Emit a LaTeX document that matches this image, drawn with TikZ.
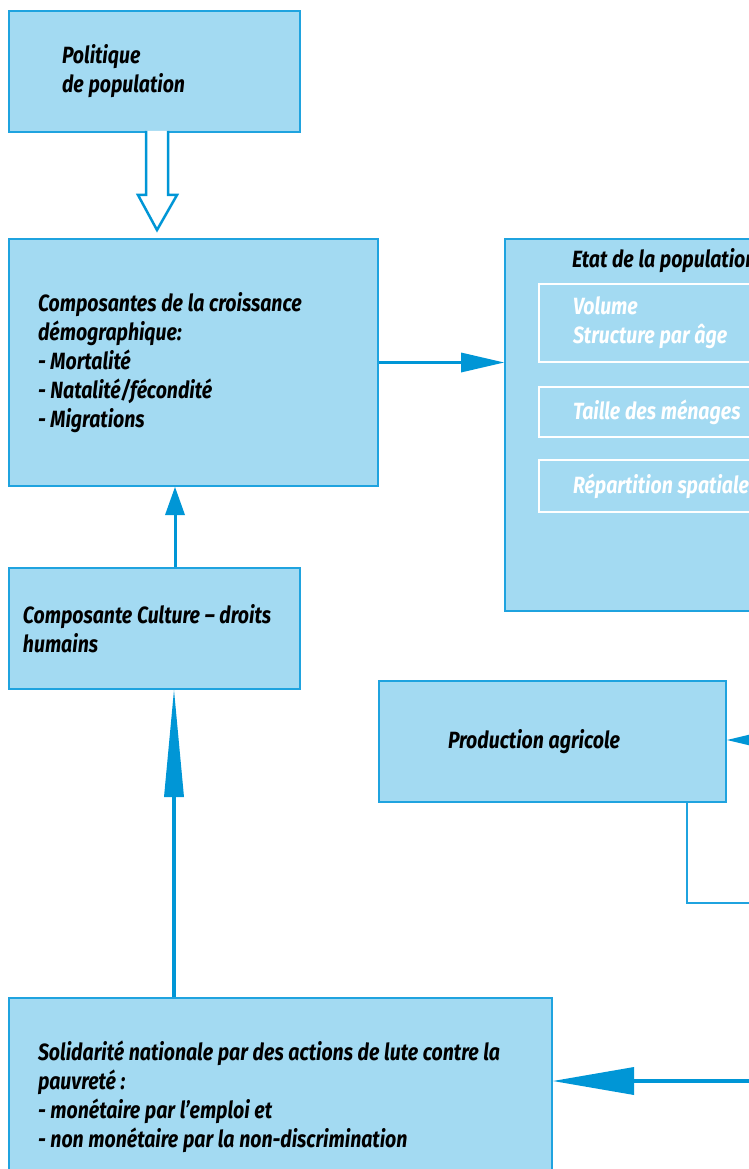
\documentclass[tikz,border=0pt]{standalone}
\usepackage{fontspec}
\setmainfont{Fira Sans}[FakeStretch=0.83]
\usetikzlibrary{calc,arrows.meta}
\definecolor{boxfill}{HTML}{A3DAF2}
\definecolor{boxline}{HTML}{1FA3DF}
\definecolor{arrowblue}{HTML}{0096D6}

\begin{document}
\begin{tikzpicture}[x=1pt,y=-1pt,
	txt/.style={font=\fontsize{23.5}{29}\selectfont\bfseries\itshape,execute at begin node={\spaceskip=.2em\relax}},
	box/.style={txt,draw=boxline,fill=boxfill,line width=2pt,anchor=north west,align=left,inner ysep=0pt},
	inbox/.style={box,draw=white,fill=none,inner xsep=34pt,text width=200pt,minimum width=268pt,text=white},
	link/.style={draw=arrowblue,line width=3pt}]
	\useasboundingbox(0,0) rectangle (749,1169);
	\clip(0,0) rectangle (749,1169);
	% boxes
	\node[box,minimum width=291pt,minimum height=121pt,inner xsep=53pt,text width=185pt](pol) at (8,10)
		{Politique\\de population};
	\node[box,minimum width=369pt,minimum height=247pt,inner xsep=29pt,text width=311pt](comp) at (8,238)
		{Composantes de la croissance\\d\'emographique:\\- Mortalit\'e\\- Natalit\'e/f\'econdit\'e\\- Migrations};
	\node[box,minimum width=336pt,minimum height=372pt](etat) at (504,238){};
	\node[txt,anchor=west,inner sep=0pt](titre) at (572,261){Etat de la population};
	\node[inbox,minimum height=78pt](vol) at (538,283){Volume\\Structure par \^age};
	\node[inbox,minimum height=50pt](men) at (538,386){Taille des m\'enages};
	\node[inbox,minimum height=52pt](rep) at (538,459){R\'epartition spatiale};
	\node[box,minimum width=291pt,minimum height=121pt,inner xsep=14pt,text width=263pt](cult) at (8,567)
		{Composante Culture -- droits\\humains};
	\node[box,minimum width=347pt,minimum height=121pt,inner xsep=69pt,text width=209pt](agri) at (378,680)
		{Production agricole};
	\node[box,minimum width=543pt,minimum height=198pt,inner xsep=29pt,text width=485pt](sol) at (8,997)
		{Solidarit\'e nationale par des actions de lute contre la\\pauvret\'e :\\- mon\'etaire par l'emploi et\\- non mon\'etaire par la non-discrimination};
	% connectors
	\coordinate(hs) at ($(pol.south)+(2.5,0)$);
	\draw[draw=arrowblue,line width=2.5pt,fill=white,line join=miter]
		($(hs)+(-11,-2)$)--($(hs)+(-11,62)$)--($(hs)+(-19,62)$)--($(hs)+(0,97)$)
		--($(hs)+(20,62)$)--($(hs)+(11,62)$)--($(hs)+(11,-2)$);
	\draw[link,-{Triangle[length=43pt,width=20pt,line width=0pt]}](comp.east)--(comp.east -| etat.west);
	\draw[link,-{Triangle[length=28pt,width=20pt,line width=0pt]}]([xshift=20.5pt]cult.north)--([xshift=20.5pt]cult.north |- comp.south);
	\draw[link,line width=4pt,-{Triangle[length=107pt,width=20pt,line width=0pt]}]([xshift=166pt]sol.north west)--([xshift=166pt]sol.north west |- cult.south);
	\coordinate(ea) at (800,740);
	\coordinate(ep) at (800,903);
	\coordinate(es) at (800,1081);
	\draw[link,-{Triangle[length=50pt,width=24pt,line width=0pt]}](ea)--(ea -| agri.east);
	\draw[draw=boxline,line width=2pt]([xshift=-40pt]agri.south east) |- (ep);
	\draw[link,line width=4pt,-{Triangle[length=81pt,width=28pt,line width=0pt]}](es)--(es -| sol.east);
\end{tikzpicture}
\end{document}
